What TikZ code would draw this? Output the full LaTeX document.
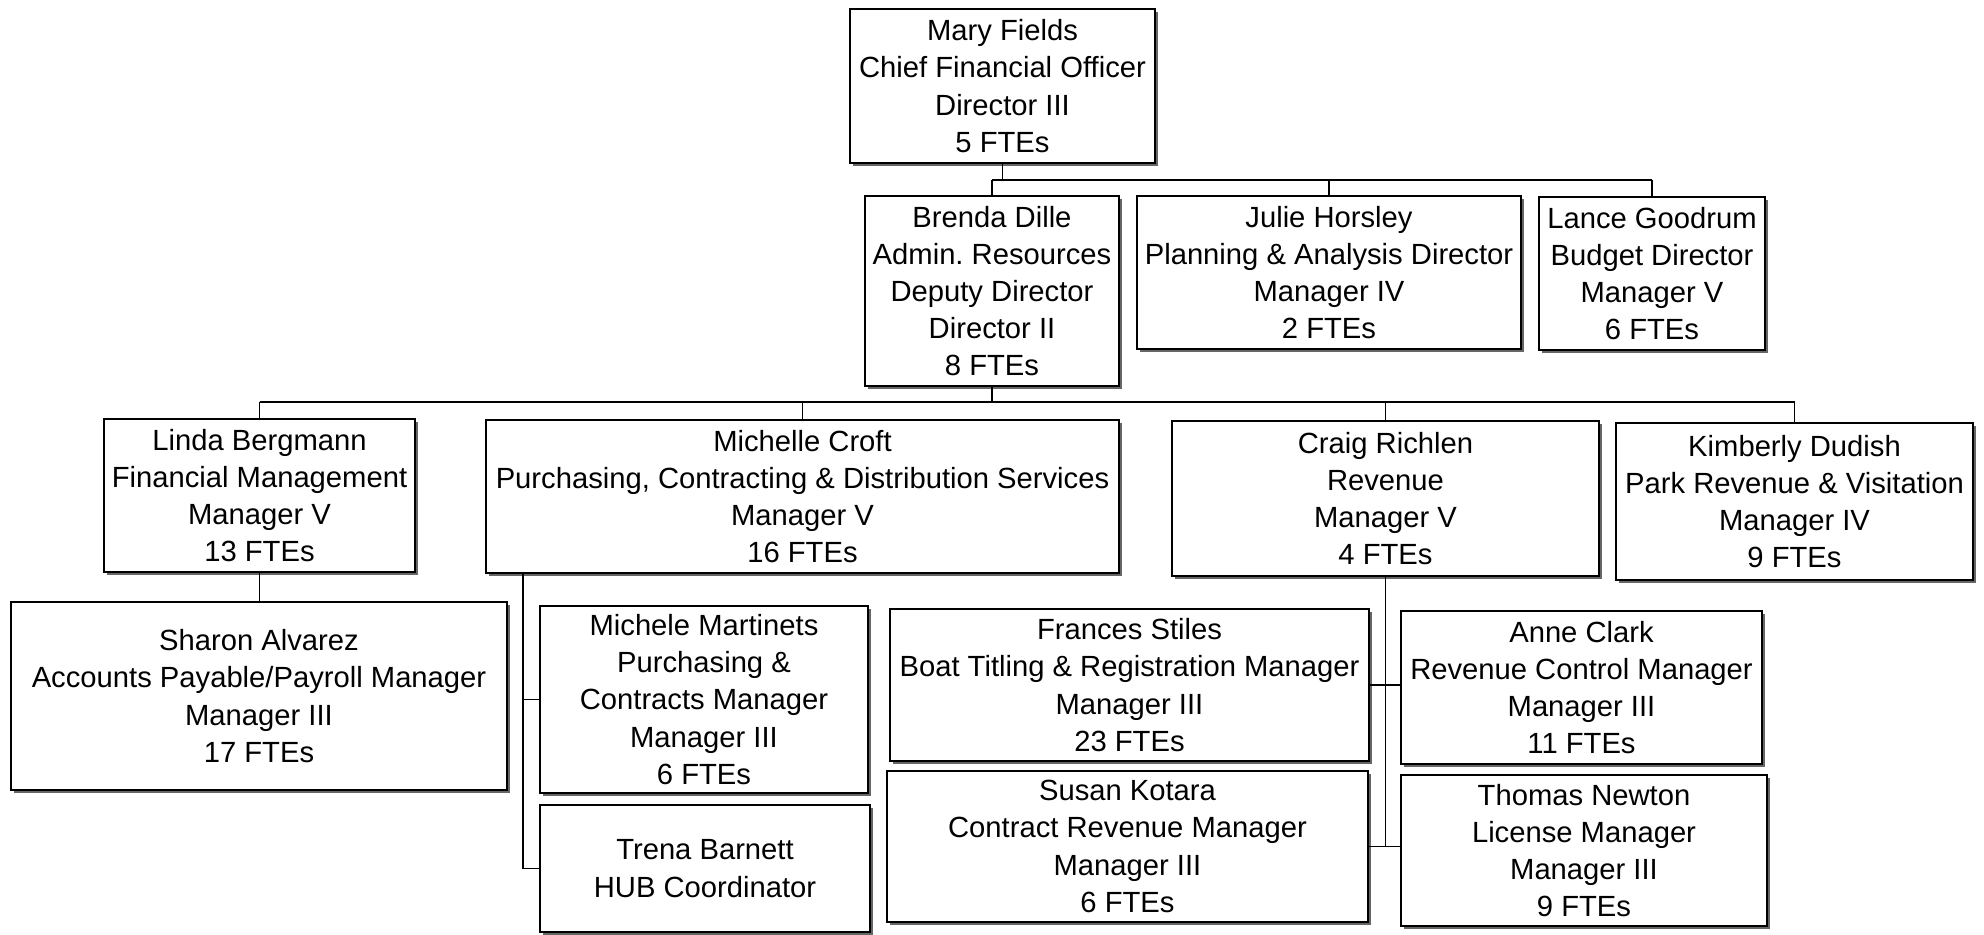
\documentclass[tikz,border=0pt]{standalone}
\usepackage{fontspec}
\setmainfont{Liberation Sans}
\usetikzlibrary{shadows}

\tikzset{
  orgbox/.style={draw, line width=0.8pt, fill=white, inner sep=0pt, align=center,
    font=\fontsize{14.6pt}{18.6pt}\selectfont,
    drop shadow={shadow xshift=1.6pt, shadow yshift=-1.6pt, fill=black!60, opacity=1}},
  link/.style={line width=0.6pt}
}

% box given by its corners (x1,y1) and (x2,y2), in pixels measured from the top left
\newcommand\orgnode[6]{%
  \node[orgbox, minimum width={(#4-#2)*0.5pt}, minimum height={(#5-#3)*0.5pt}]
    (#1) at ({(#2+#4)/2},{(#3+#5)/2}) {#6};}

\begin{document}
\begin{tikzpicture}[x=0.5pt,y=-0.5pt]
\useasboundingbox (0,0) rectangle (1984,934);

% level 1
\orgnode{mary}{850}{9}{1155}{163}{Mary Fields\\Chief Financial Officer\\Director III\\5 FTEs}

% level 2
\orgnode{brenda}{865}{196}{1119}{386}{Brenda Dille\\Admin.\ Resources\\Deputy Director\\Director II\\8 FTEs}
\orgnode{julie}{1137}{196}{1521}{349}{Julie Horsley\\Planning \& Analysis Director\\Manager IV\\2 FTEs}
\orgnode{lance}{1539}{197}{1765}{350}{Lance Goodrum\\Budget Director\\Manager V\\6 FTEs}

% level 3
\orgnode{linda}{104}{419}{415}{572}{Linda Bergmann\\Financial Management\\Manager V\\13 FTEs}
\orgnode{michelle}{486}{420}{1119}{573}{Michelle Croft\\Purchasing, Contracting \& Distribution Services\\Manager V\\16 FTEs}
\orgnode{craig}{1172}{421}{1599}{576}{Craig Richlen\\Revenue\\Manager V\\4 FTEs}
\orgnode{kimberly}{1616}{423}{1973}{580}{Kimberly Dudish\\Park Revenue \& Visitation\\Manager IV\\9 FTEs}

% level 4
\orgnode{sharon}{11}{602}{507}{790}{Sharon Alvarez\\Accounts Payable/Payroll Manager\\Manager III\\17 FTEs}
\orgnode{martinets}{540}{606}{868}{793}{Michele Martinets\\Purchasing \&\\Contracts Manager\\Manager III\\6 FTEs}
\orgnode{trena}{540}{805}{870}{932}{Trena Barnett\\HUB Coordinator}
\orgnode{frances}{890}{609}{1369}{761}{Frances Stiles\\Boat Titling \& Registration Manager\\Manager III\\23 FTEs}
\orgnode{anne}{1401}{611}{1762}{764}{Anne Clark\\Revenue Control Manager\\Manager III\\11 FTEs}
\orgnode{susan}{887}{771}{1368}{922}{Susan Kotara\\Contract Revenue Manager\\Manager III\\6 FTEs}
\orgnode{thomas}{1401}{775}{1767}{926}{Thomas Newton\\License Manager\\Manager III\\9 FTEs}

% bus lines and trunks
\coordinate (busA) at (0,180);
\coordinate (busB) at (0,402);
\coordinate (mtrunk) at (523,0);

\draw[link] (mary.south) -- (mary.south |- busA);
\draw[link] (brenda.north |- busA) -- (lance.north |- busA);
\foreach \n in {brenda,julie,lance} \draw[link] (\n.north |- busA) -- (\n.north);

\draw[link] (brenda.south) -- (brenda.south |- busB);
\draw[link] (linda.north |- busB) -- (kimberly.north |- busB);
\foreach \n in {linda,michelle,craig,kimberly} \draw[link] (\n.north |- busB) -- (\n.north);

\draw[link] (linda.south) -- (linda.south |- sharon.north);

\draw[link] (michelle.south -| mtrunk) -- (trena.west -| mtrunk) -- (trena.west);
\draw[link] (martinets.west -| mtrunk) -- (martinets.west);

\draw[link] (craig.south) -- (craig.south |- susan.east);
\draw[link] (frances.east) -- (frances.east -| anne.west);
\draw[link] (susan.east) -- (susan.east -| thomas.west);
\end{tikzpicture}
\end{document}
